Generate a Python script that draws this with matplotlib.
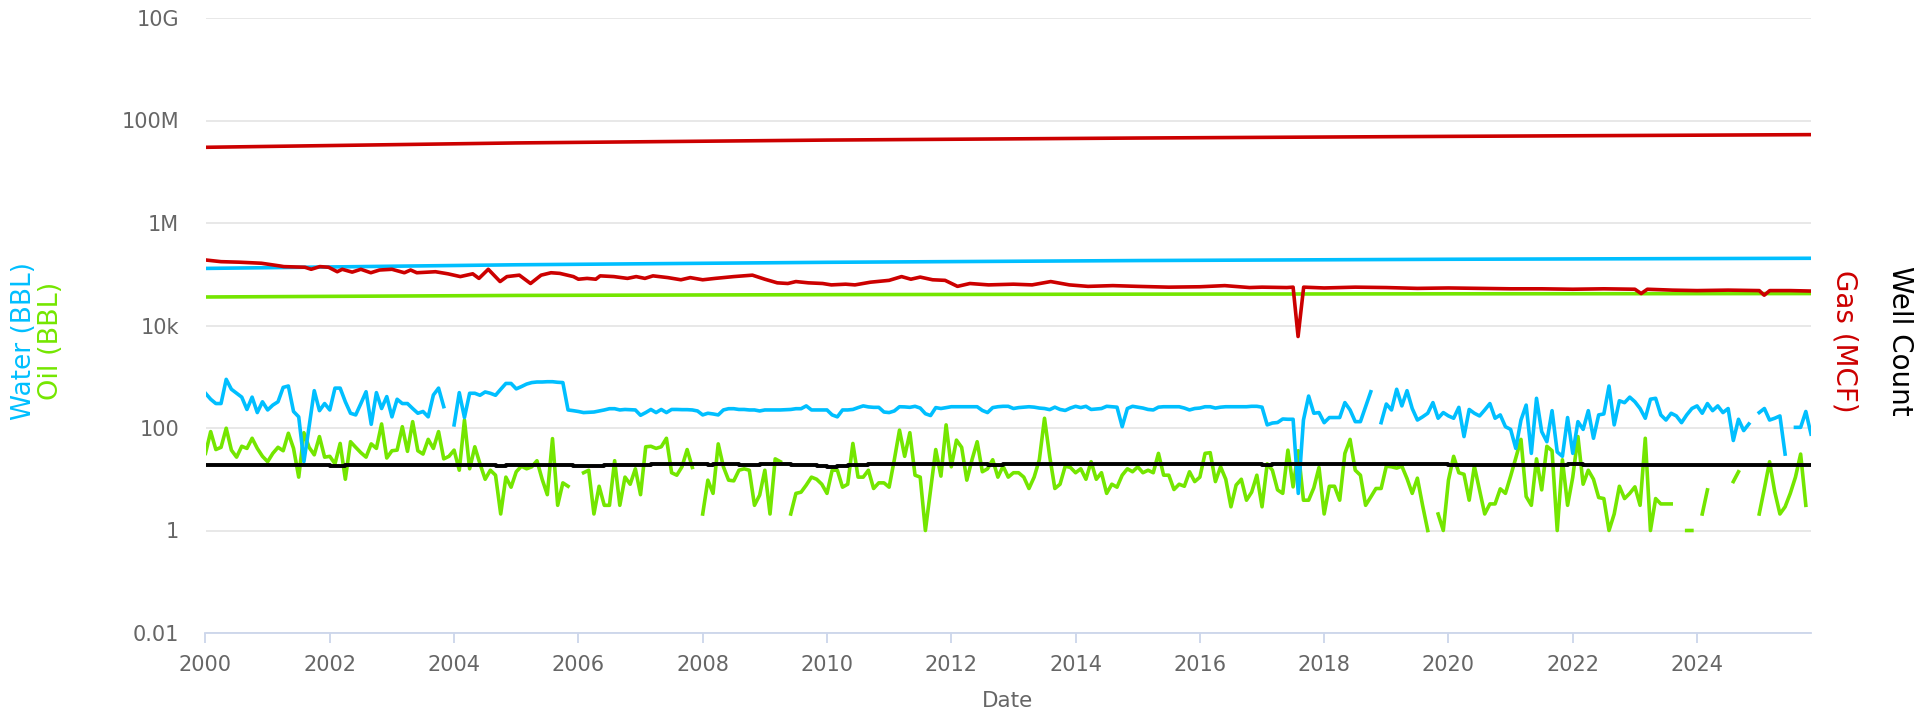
import numpy as np
import matplotlib.pyplot as plt
from matplotlib.ticker import FixedLocator, FixedFormatter, NullLocator

nan = np.nan

# monthly production, Jan 2000 onwards (gaps = no reported volume)
WATER_BBL = [
    476, 364, 300, 300, 890, 570, 476, 400, 230, 400, 200, 325, 225, 280, 325, 620, 660, 210, 165, 22,
    106, 535, 218, 300, 225, 600, 600, 325, 194, 180, 300, 510, 118, 490, 240, 410, 165, 364, 300, 300,
    240, 194, 210, 165, 440, 600, 261, nan, 115, 490, 160, 476, 476,
    435, 505, 476, 435, 570, 740, 740, 580, 643, 720, 770, 790, 790, 800, 800, 780, 770, 225, 218, 210,
    200, 202, 205, 215, 225, 238, 238, 225, 230, 228, 225, 177, 200, 230, 200, 230, 200, 230, 230, 228,
    228, 225, 215, 180, 194, 188, 180, 225, 238, 238, 230, 230,
    225, 225, 215, 225, 225, 225, 225, 228, 230, 238, 238, 270, 225, 225, 225, 225, 180, 165, 225, 225,
    230, 250, 270, 258, 253, 253, 205, 200, 215, 260, 258, 253, 265, 245, 190, 175, 250, 240, 250, 260,
    260, 260, 260, 260, 260, 220, 200, 250, 260, 265, 265, 240,
    250, 255, 260, 255, 245, 240, 228, 255, 230, 220, 245, 265, 250, 265, 230, 235, 240, 265, 260, 255,
    106, 240, 265, 255, 245, 230, 225, 255, 260, 260, 260, 260, 245, 225, 240, 245, 260, 260, 245, 255,
    260, 260, 260, 260, 260, 265, 265, 255, 115, 125, 128,
    150, 148, 148, 5.3, 143, 420, 194, 200, 127, 160, 160, 160, 313, 225, 133, 133, 260, 510, nan, 127,
    294, 225, 570, 270, 535, 240, 143, 165, 194, 313, 155, 200, 172, 155, 253, 68, 230, 194, 172, 225,
    300, 155, 180, 106, 94, 40, 143, 280, 32, 380, 85, 54, 218, 34,
    28, 160, 32, 133, 94, 218, 63, 180, 188, 660, 115, 340, 312, 400, 325, 240, 155, 365, 380, 180,
    143, 194, 172, 127, 180, 240, 270, 194, 300, 218, 270, 200, 240, 57, 148, 89, 120, nan, 200, 240,
    143, 155, 172, 31, nan, 103, 103, 210, 76,
]

OIL_BBL = [
    32, 85, 38, 42, 99, 37, 27, 44, 40, 63, 40, 28, 22, 32, 42, 36, 79, 40, 11, 81,
    42, 30, 68, 27, 28, 20, 50, 10, 54, 42, 33, 27, 49, 40, 120, 26, 36, 37, 106, 35,
    133, 36, 31, 60, 40, 85, 25, 28, 37, 15, 143, 16, 43,
    20, 10, 15, 12, 2.1, 11, 7, 14, 18, 16, 17.5, 23, 10, 5, 62, 3.1, 8.5, 7.3, nan, nan,
    13.4, 15, 2.1, 7.3, 3.1, 3.1, 23, 3.1, 11, 8, 16, 5, 43, 44, 40, 43, 63, 13.4, 12, 17.5,
    38, 17, nan, 2.1, 9.6, 5.3, 49, 17.5, 9.6, 9.3, 15, 16,
    15, 3.1, 4.9, 15, 2.1, 25, 22, nan, 2.1, 5.3, 5.6, 7.7, 11, 10, 8, 5.3, 15, 15, 7, 8,
    50, 11, 11, 15, 6.6, 8.5, 8.5, 7, 24, 91, 28, 81, 12, 11, 1.0, 6.2, 38, 11.5, 115, 17.5,
    58, 42, 9.6, 24, 54, 14, 16, 24, 11, 18, 11, 13.4,
    13.4, 11, 6.6, 11, 24, 155, 28, 6.6, 8, 18, 17, 13.4, 16, 10, 22, 10, 13.4, 5.3, 8, 7,
    12, 16, 14, 17.5, 13.4, 15, 13.4, 32, 12, 12, 6.3, 8, 7.3, 14, 9, 11, 32, 33, 9, 17.5,
    10, 2.9, 7.7, 10, 3.9, 5.6, 12, 2.9, 20, 15, 6.2,
    5.3, 37, 7.1, 36, 3.9, 3.9, 6.8, 17, 2.1, 7.3, 7.3, 3.9, 32, 60, 15, 12, 3.1, 4.5, 6.6, 6.6,
    18, 17.5, 16.5, 18, 10.3, 5.3, 10.5, 3.1, 1.0, nan, 2.1, 1.0, 9.6, 28, 13.4, 12.5, 3.9, 18, 6.2, 2.1,
    3.3, 3.3, 6.5, 5.3, 11.5, 26, 60, 4.6, 3.1, 25, 6.2, 44, 36, 1.0,
    24, 3.1, 11, 68, 8, 15, 10, 4.4, 4.2, 1.0, 2.1, 7.3, 4.2, 5.3, 7.1, 3.1, 63, 1.0, 4.2, 3.3,
    3.3, 3.3, nan, nan, 1.0, 1.0, nan, 2.1, 6.2, nan, nan, nan, nan, 9.0, 14, nan, nan, nan, 2.1, 6.6,
    22, 5.7, 2.1, 2.9, 5.3, 11, 31, 3.1, nan,
]

GAS_DATES = [
    2000.0, 2000.25, 2000.54, 2000.9, 2001.2, 2001.26, 2001.6, 2001.7, 2001.84, 2001.98,
    2002.12, 2002.2, 2002.36, 2002.5, 2002.66, 2002.8, 2003.0, 2003.2, 2003.3, 2003.4,
    2003.7, 2003.9, 2004.1, 2004.3, 2004.4, 2004.55, 2004.74, 2004.85, 2005.05, 2005.23,
    2005.4, 2005.56, 2005.7, 2005.92, 2006.0, 2006.14, 2006.28, 2006.35, 2006.57, 2006.79,
    2006.93, 2007.07, 2007.2, 2007.44, 2007.65, 2007.8, 2008.0, 2008.2, 2008.5, 2008.8,
    2009.0, 2009.2, 2009.37, 2009.5, 2009.7, 2009.93, 2010.07, 2010.3, 2010.45, 2010.7,
    2011.0, 2011.2, 2011.35, 2011.5, 2011.7, 2011.9, 2012.1, 2012.3, 2012.6, 2013.0,
    2013.3, 2013.6, 2013.9, 2014.2, 2014.6, 2015.0, 2015.5, 2016.0, 2016.4, 2016.8,
    2017.0, 2017.4, 2017.5, 2017.58, 2017.67, 2018.0, 2018.5, 2019.0, 2019.5, 2020.0,
    2020.5, 2021.0, 2021.5, 2022.0, 2022.5, 2023.0, 2023.1, 2023.2, 2023.6, 2024.0,
    2024.5, 2025.0, 2025.08, 2025.17, 2025.5, 2025.83,
]
GAS_KMCF = [
    190, 176, 172, 164, 145, 141, 137, 125, 141, 137, 112, 125, 110, 125, 107, 121, 125, 107, 121, 107,
    112, 102, 90, 102, 83, 125, 72, 90, 96, 66, 96, 107, 104, 90, 80, 83, 80, 93, 90, 83,
    90, 83, 93, 86, 78, 86, 78, 83, 90, 96, 80, 68, 66, 72, 68, 66, 62, 64, 62, 70,
    76, 90, 80, 88, 78, 76, 58, 66, 62, 64, 62, 72, 62, 58, 60, 58, 56, 57, 60, 55,
    56, 55, 56, 6.1, 56, 54, 56, 55, 53, 54, 53, 52, 52, 51, 52, 51, 42, 51, 49, 48,
    49, 48, 39, 48, 48, 47,
]

# cumulative totals
CUM_DATES = [2000.0, 2005.0, 2010.0, 2015.0, 2020.0, 2025.83]
CUM_GAS = [30e6, 36.5e6, 41.5e6, 45.5e6, 49e6, 53e6]
CUM_WATER = [130e3, 153e3, 171e3, 185e3, 196e3, 205e3]
CUM_OIL = [36e3, 38.6e3, 40e3, 40.9e3, 41.5e3, 42e3]

# producing wells, month index where the count changes
WELL_MONTH = [0, 24, 27, 56, 58, 71, 77, 86, 97, 98, 103, 107, 113, 118, 120, 122, 124, 128,
              151, 154, 204, 206, 240, 263, 266, 310]
WELL_COUNT = [19, 18, 19, 18, 19, 18, 19, 20, 19, 20, 19, 20, 19, 18, 17, 18, 19, 20,
              19, 20, 19, 20, 19, 20, 19, 19]

YTICKS = [1e-2, 1, 1e2, 1e4, 1e6, 1e8, 1e10]
YTICK_LABELS = ["0.01", "1", "100", "10k", "1M", "100M", "10G"]
XTICKS = list(range(2000, 2025, 2))

WATER_C = "#00bfff"
OIL_C = "#74e600"
GAS_C = "#cc0000"

W, H = 1915, 713
months = 2000 + np.arange(len(WATER_BBL)) / 12.0

fig = plt.figure(figsize=(W / 100, H / 100), dpi=100)
ax = fig.add_axes([205.5 / W, 80 / H, (1811 - 205.5) / W, (633 - 18) / H])

lw = 2.6
ax.plot(months, OIL_BBL, color=OIL_C, lw=lw, zorder=3)
ax.plot(months, WATER_BBL, color=WATER_C, lw=lw, zorder=4)
ax.plot(CUM_DATES, CUM_OIL, color=OIL_C, lw=lw, zorder=3)
ax.plot(CUM_DATES, CUM_WATER, color=WATER_C, lw=lw, zorder=4)
ax.plot(GAS_DATES, np.array(GAS_KMCF) * 1000, color=GAS_C, lw=lw, zorder=5)
ax.plot(CUM_DATES, CUM_GAS, color=GAS_C, lw=lw, zorder=5)
ax.plot(2000 + np.array(WELL_MONTH) / 12.0, WELL_COUNT, color="black", lw=2.8,
        drawstyle="steps-post", zorder=6)

ax.set_yscale("log")
ax.set_ylim(1e-2, 1e10)
ax.set_xlim(2000, months[-1])
ax.yaxis.set_major_locator(FixedLocator(YTICKS))
ax.yaxis.set_major_formatter(FixedFormatter(YTICK_LABELS))
ax.yaxis.set_minor_locator(NullLocator())
ax.set_xticks(XTICKS)
ax.set_xticklabels([str(y) for y in XTICKS])

ax.grid(axis="y", color="#e6e6e6", lw=1.3)
ax.set_axisbelow(True)
for s in ["top", "right", "left"]:
    ax.spines[s].set_visible(False)
ax.spines["bottom"].set_color("#ccd6eb")
ax.spines["bottom"].set_linewidth(1.3)

ax.tick_params(axis="x", colors="#ccd6eb", length=7.5, width=1.3, pad=8,
               labelsize=15, labelcolor="#666666")
ax.tick_params(axis="y", length=0, pad=19, labelsize=15, labelcolor="#666666")

fig.text(1008 / W, 1 - 701 / H, "Date", ha="center", va="center", fontsize=15.5, color="#666666")
mid = 1 - 341 / H
fig.text(24 / W, mid, "Water (BBL)", rotation=90, ha="center", va="center", fontsize=19, color=WATER_C)
fig.text(51 / W, mid, "Oil (BBL)", rotation=90, ha="center", va="center", fontsize=19.5, color=OIL_C)
fig.text(1845 / W, mid, "Gas (MCF)", rotation=270, ha="center", va="center", fontsize=20, color=GAS_C)
fig.text(1900 / W, mid, "Well Count", rotation=270, ha="center", va="center", fontsize=20, color="black")

fig.savefig("out.png", dpi=100)
